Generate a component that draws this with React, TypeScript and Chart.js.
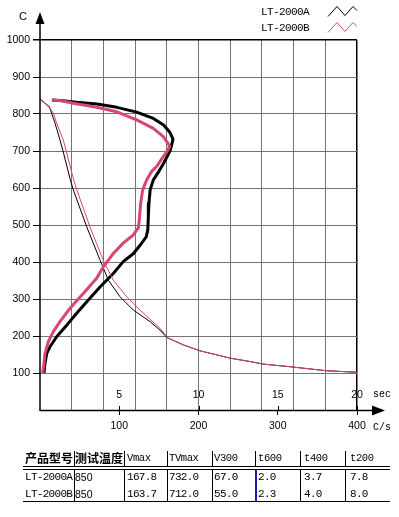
import React, { useEffect, useRef } from 'react';
import { Chart, registerables } from 'chart.js';

Chart.register(...registerables);

// ---------- data ----------
const seriesNames = ['LT-2000A', 'LT-2000B'];

// cooling rate (C/s) vs temperature (C) — thick curves
const rateA_v = [15, 29, 46, 72, 97, 122, 143, 156, 164, 167.8, 166, 164, 156, 150, 143, 139, 137.5, 136.7, 136, 134, 128, 118, 105, 92.5, 76, 61, 46, 34, 21, 12.6, 8.5, 6.3, 5];
const rateA_T = [838, 836, 832, 827, 818, 805, 788, 770, 750, 732, 715, 700, 667, 645, 622, 595, 559, 522, 486, 468, 450, 423, 401, 369, 333, 297, 261, 230, 198, 171, 153, 126, 100];

const rateB_v = [15, 27, 42, 71.5, 97, 122, 143, 155.6, 161, 163.7, 160, 155.6, 147, 141, 134.6, 129.6, 127, 125.3, 124, 117.7, 105, 92.5, 80, 71.5, 54.6, 37.9, 25.2, 16.8, 10.5, 6.3, 5, 3.4];
const rateB_T = [838, 836, 829, 818, 806, 784, 761, 739, 722, 712, 698, 685, 658, 645, 622, 595, 559, 514, 492, 473, 451, 423, 387, 356, 315, 275, 239, 212, 185, 153, 126, 100];

// time (sec) vs temperature (C) — thin curves
const timeA_s = [0, 0.59, 0.95, 1.26, 1.47, 1.89, 2.1, 2.95, 3.79, 4.31, 5.05, 5.89, 6.94, 7.57, 8.0, 9.04, 10.09, 11.15, 12, 13.25, 14.09, 15.77, 17.03, 18.09, 20];
const timeA_T = [840, 820, 775, 730, 697, 626, 595, 495, 405, 351, 306, 270, 239, 216, 196, 176, 160, 149, 140, 131, 124, 117, 111, 106, 102];

const timeB_s = [0, 0.1, 0.63, 0.84, 1.05, 1.47, 2.1, 2.32, 3.15, 3.99, 4.62, 5.47, 6.31, 7.57, 8.09, 9.04, 10.09, 11.15, 12, 13.25, 14.09, 15.77, 17.03, 18.09, 20];
const timeB_T = [840, 838, 815, 803, 775, 730, 626, 595, 495, 405, 351, 306, 270, 221, 194, 176, 160, 149, 140, 131, 124, 117, 111, 106, 102];

const secTickLabels = [5, 10, 15, 20];

const tableHeaders = ['产品型号', '测试温度', 'Vmax', 'TVmax', 'V300', 't600', 't400', 't200'];
const rowA = ['LT-2000A', '850', '167.8', '732.0', '67.0', '2.0', '3.7', '7.8'];
const rowB = ['LT-2000B', '850', '163.7', '712.0', '55.0', '2.3', '4.0', '8.0'];

// ---------- styles ----------
const BLACK = '#000000';
const PINK = '#d9466e';
const GRID = '#737373';
const SERIES_COLORS = [BLACK, PINK];

const zip = (xs: number[], ys: number[]) => xs.map((x, i) => ({ x, y: ys[i] }));

const decorPlugin = {
  id: 'decor',
  afterDraw(chart: any) {
    const ctx = chart.ctx as CanvasRenderingContext2D;
    const { left, bottom } = chart.chartArea;
    const xs = chart.scales.xSec;
    const xc = chart.scales.x;
    ctx.save();
    ctx.strokeStyle = BLACK;
    ctx.fillStyle = BLACK;
    ctx.lineWidth = 1.5;
    // y axis + arrow
    ctx.beginPath();
    ctx.moveTo(left, bottom + 1);
    ctx.lineTo(left, 22);
    ctx.stroke();
    ctx.beginPath();
    ctx.moveTo(left, 12);
    ctx.lineTo(left - 4.5, 24);
    ctx.lineTo(left + 4.5, 24);
    ctx.closePath();
    ctx.fill();
    // x axis + arrow
    ctx.beginPath();
    ctx.moveTo(left, bottom + 0.5);
    ctx.lineTo(374, bottom + 0.5);
    ctx.stroke();
    ctx.beginPath();
    ctx.moveTo(385, bottom + 0.5);
    ctx.lineTo(372, bottom - 4.5);
    ctx.lineTo(372, bottom + 5.5);
    ctx.closePath();
    ctx.fill();
    // upper part of x tick marks
    ctx.lineWidth = 1;
    xc.ticks.forEach((t: any) => {
      if (t.value === 0) return;
      const px = Math.round(xc.getPixelForValue(t.value)) + 0.5;
      ctx.beginPath();
      ctx.moveTo(px, bottom - 4);
      ctx.lineTo(px, bottom);
      ctx.stroke();
    });
    // sec labels
    ctx.font = '10.5px "Liberation Sans"';
    ctx.textAlign = 'center';
    ctx.textBaseline = 'middle';
    secTickLabels.forEach((s) => ctx.fillText(String(s), xs.getPixelForValue(s), bottom - 15));
    ctx.font = '10px "Liberation Mono"';
    ctx.textAlign = 'left';
    ctx.fillText('sec', 373, bottom - 16);
    ctx.fillText('C/s', 373, bottom + 17);
    ctx.font = '11px "Liberation Sans"';
    ctx.textAlign = 'center';
    ctx.fillText('C', 23, 17);
    // legend
    ctx.font = '11px "Liberation Mono"';
    (ctx as any).letterSpacing = '-0.6px';
    ctx.textAlign = 'left';
    seriesNames.forEach((name, i) => {
      const y = 12.5 + i * 16;
      ctx.fillStyle = BLACK;
      ctx.fillText(name, 261, y);
      ctx.strokeStyle = SERIES_COLORS[i];
      ctx.lineWidth = 1;
      ctx.beginPath();
      ctx.moveTo(328, y + 4);
      ctx.lineTo(337, y - 6);
      ctx.lineTo(345, y + 3);
      ctx.lineTo(353, y - 6);
      ctx.lineTo(357, y - 2);
      ctx.stroke();
    });
    ctx.restore();
  },
};

function ChartCanvas() {
  const ref = useRef<HTMLCanvasElement | null>(null);
  useEffect(() => {
    if (!ref.current) return;
    const chart = new Chart(ref.current, {
      type: 'line',
      data: {
        datasets: [
          { label: seriesNames[1] + ' t', data: zip(timeB_s, timeB_T), xAxisID: 'xSec', yAxisID: 'y', borderColor: PINK, borderWidth: 1, pointRadius: 0 },
          { label: seriesNames[1], data: zip(rateB_v, rateB_T), xAxisID: 'x', yAxisID: 'y', borderColor: PINK, borderWidth: 3, pointRadius: 0, borderJoinStyle: 'round' },
          { label: seriesNames[0] + ' t', data: zip(timeA_s, timeA_T), xAxisID: 'xSec', yAxisID: 'y', borderColor: BLACK, borderWidth: 1, pointRadius: 0 },
          { label: seriesNames[0], data: zip(rateA_v, rateA_T), xAxisID: 'x', yAxisID: 'y', borderColor: BLACK, borderWidth: 3, pointRadius: 0, borderJoinStyle: 'round' },
        ] as any,
      },
      options: {
        animation: false,
        responsive: false,
        events: [],
        layout: { padding: { top: 40, right: 42, bottom: 0, left: 0 } },
        plugins: { legend: { display: false }, tooltip: { enabled: false } },
        scales: {
          x: {
            type: 'linear',
            position: 'bottom',
            min: 0,
            max: 400,
            border: { display: false },
            grid: {
              drawOnChartArea: false,
              tickLength: 5,
              tickColor: (c: any) => (c.tick && c.tick.value === 0 ? 'rgba(0,0,0,0)' : BLACK),
            },
            ticks: {
              stepSize: 100,
              padding: 5,
              color: BLACK,
              font: { family: 'Liberation Sans', size: 10.5 },
              maxRotation: 0,
              callback: (v: any) => (v === 0 ? '' : String(v)),
            },
            afterFit: (s: any) => { s.height = 30; },
          },
          xSec: {
            type: 'linear',
            position: 'top',
            min: 0,
            max: 20,
            border: { display: false },
            grid: {
              drawTicks: false,
              color: (c: any) => (c.tick.value === 0 ? 'rgba(0,0,0,0)' : c.tick.value === 20 ? BLACK : GRID),
              lineWidth: (c: any) => (c.tick.value === 20 ? 1.5 : 1),
            },
            ticks: { stepSize: 2, display: false },
            afterFit: (s: any) => { s.height = 0; },
          },
          y: {
            type: 'linear',
            position: 'left',
            min: 0,
            max: 1000,
            border: { display: false },
            grid: {
              color: (c: any) => (c.tick.value === 0 ? 'rgba(0,0,0,0)' : c.tick.value === 1000 ? BLACK : GRID),
              lineWidth: (c: any) => (c.tick.value === 1000 ? 1.5 : 1),
              tickLength: 7,
              tickColor: (c: any) => (c.tick && c.tick.value === 0 ? 'rgba(0,0,0,0)' : BLACK),
            },
            ticks: {
              stepSize: 100,
              padding: 3,
              color: BLACK,
              font: { family: 'Liberation Sans', size: 10.5 },
              callback: (v: any) => (v === 0 ? '' : String(v)),
            },
            afterFit: (s: any) => { s.width = 40; },
          },
        },
      } as any,
      plugins: [decorPlugin],
    });
    return () => chart.destroy();
  }, []);
  return <canvas ref={ref} width={399} height={440} style={{ position: 'absolute', left: 0, top: 0, width: 399, height: 440 }} />;
}

const colEdges = [23, 74, 124, 167, 212, 255, 300, 345, 390];
const textLeft = [25, 75, 127, 169, 214, 258, 304, 350];

function DataTable() {
  const cell = (text: string, col: number, cy: number, font: React.CSSProperties, key: string) => (
    <div
      key={key}
      style={{ position: 'absolute', left: textLeft[col], top: cy - 9, height: 18, lineHeight: '18px', whiteSpace: 'nowrap', color: BLACK, ...font }}
    >
      {text}
    </div>
  );
  const cjk: React.CSSProperties = { fontFamily: '"Noto Sans CJK SC"', fontSize: 12, fontWeight: 700 };
  const monoSmall: React.CSSProperties = { fontFamily: '"Liberation Mono"', fontSize: 10.5, letterSpacing: -0.4 };
  const mono: React.CSSProperties = { fontFamily: '"Liberation Mono"', fontSize: 11, letterSpacing: -0.7 };
  const sans: React.CSSProperties = { fontFamily: '"Liberation Sans"', fontSize: 10.5 };
  const hline = (y: number, key: string) => (
    <div key={key} style={{ position: 'absolute', left: colEdges[0], top: y, width: colEdges[8] - colEdges[0], height: 1, background: BLACK }} />
  );
  const vline = (x: number, y0: number, y1: number, key: string, color = BLACK, w = 1) => (
    <div key={key} style={{ position: 'absolute', left: x, top: y0, width: w, height: y1 - y0, background: color }} />
  );
  return (
    <div style={{ position: 'absolute', left: 0, top: 0, width: 399, height: 517 }}>
      {tableHeaders.map((h, i) => cell(h, i, 458, i < 2 ? cjk : monoSmall, 'h' + i))}
      {rowA.map((v, i) => cell(v, i, 477, i === 1 ? sans : mono, 'a' + i))}
      {rowB.map((v, i) => cell(v, i, 494, i === 1 ? sans : mono, 'b' + i))}
      {colEdges.slice(1, 8).map((x, i) => vline(x, 451, 466, 'vh' + i))}
      {colEdges.slice(1, 8).map((x, i) => vline(x, 470, 501, 'vb' + i))}
      {vline(255, 470, 501, 'blue', '#1c1ca8', 2)}
      {hline(466, 'd1')}
      {hline(469, 'd2')}
      {hline(501, 'bt')}
    </div>
  );
}

export default function App() {
  return (
    <div style={{ position: 'absolute', left: 0, top: 0, width: 399, height: 517, background: '#fff' }}>
      <ChartCanvas />
      <DataTable />
    </div>
  );
}
